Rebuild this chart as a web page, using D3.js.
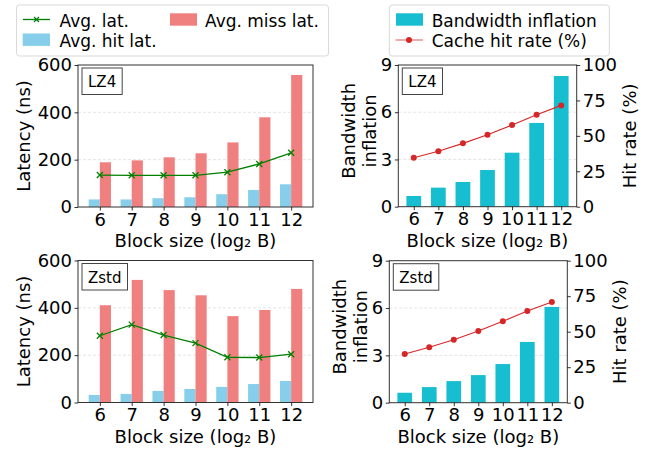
<!DOCTYPE html>
<html>
<head>
<meta charset="utf-8">
<script src="https://cdn.jsdelivr.net/npm/d3@7"></script>
<style>
  body { margin: 0; background: #fff; }
  text { font-family: "DejaVu Sans", sans-serif; fill: #000; }
</style>
</head>
<body>
<div id="chart"></div>
<script>
// data
var blockSizes = [6, 7, 8, 9, 10, 11, 12];

var lz4Hit = [32, 32, 37, 41, 54, 72, 96];
var lz4Miss = [189, 197, 210, 227, 273, 379, 558];
var lz4Avg = [135, 134, 134, 134, 147, 182, 229];

var zstdHit = [32, 36, 49, 57, 66, 78, 91];
var zstdMiss = [411, 518, 475, 453, 365, 391, 480];
var zstdAvg = [282, 329, 285, 251, 191, 190, 204];

var lz4Bw = [0.68, 1.21, 1.57, 2.33, 3.43, 5.32, 8.3];
var lz4HitRate = [34.6, 39.1, 44.7, 50.8, 57.6, 64.9, 71.5];
var zstdBw = [0.63, 0.99, 1.37, 1.75, 2.45, 3.85, 6.07];
var zstdHitRate = [34.3, 39.0, 44.4, 50.5, 57.3, 64.6, 70.9];

var latencyTicks = [0, 200, 400, 600];
var bwTicks = [0, 3, 6, 9];
var hitRateTicks = [0, 25, 50, 75, 100];

var colors = {
  hit: "#87ceeb",
  miss: "#f08080",
  avg: "#008000",
  bw: "#17becf",
  rate: "#d62728"
};

var svg = d3.select("#chart").append("svg")
  .attr("width", 654)
  .attr("height", 452);

function styleAxis(g) {
  g.select(".domain").remove();
  g.selectAll("line").attr("stroke", "#000").attr("stroke-width", 0.8);
  g.selectAll("text")
    .attr("font-family", "DejaVu Sans, sans-serif")
    .attr("font-size", 18)
    .attr("fill", "#000");
}

function labelBox(g, x0, y0, label) {
  var lb = g.append("g");
  var r = lb.append("rect");
  var t = lb.append("text")
    .attr("font-size", 15)
    .text(label);
  var w = t.node().getComputedTextLength();
  r.attr("x", x0 + 4)
    .attr("y", y0 + 3)
    .attr("width", w + 12)
    .attr("height", 26.5)
    .attr("fill", "#fff")
    .attr("stroke", "#444")
    .attr("stroke-width", 1);
  t.attr("x", x0 + 10).attr("y", y0 + 22);
}

function frame(g, x0, x1, y0, y1) {
  g.append("rect")
    .attr("x", x0).attr("y", y0)
    .attr("width", x1 - x0).attr("height", y1 - y0)
    .attr("fill", "none")
    .attr("stroke", "#333")
    .attr("stroke-width", 1);
}

function xAxisAndLabel(g, x, y1) {
  g.append("g")
    .attr("transform", `translate(0, ${y1})`)
    .call(d3.axisBottom(x).tickValues(blockSizes).tickSize(3.5).tickPadding(2.5).tickSizeOuter(0))
    .call(styleAxis);
  g.append("text")
    .attr("x", (x.range()[0] + x.range()[1]) / 2)
    .attr("y", y1 + 40)
    .attr("text-anchor", "middle")
    .attr("font-size", 18)
    .text("Block size (log\u2082 B)");
}

// latency panel: hit/miss bars + average line
function latencyPanel(box, hit, miss, avg, name) {
  var g = svg.append("g");
  var x = d3.scaleLinear().domain([5.315, 12.685]).range([box.x0, box.x1]);
  var y = d3.scaleLinear().domain([0, 600]).range([box.y1, box.y0]);
  var bw = 0.35;

  g.selectAll(".grid")
    .data(latencyTicks.slice(1, -1))
    .enter().append("line")
    .attr("x1", box.x0).attr("x2", box.x1)
    .attr("y1", d => y(d)).attr("y2", d => y(d))
    .attr("stroke", "#ddd").attr("stroke-width", 0.8)
    .attr("stroke-dasharray", "3,2");

  g.selectAll(".hit")
    .data(blockSizes)
    .enter().append("rect")
    .attr("x", d => x(d - bw))
    .attr("y", (d, i) => y(hit[i]))
    .attr("width", x(bw) - x(0))
    .attr("height", (d, i) => y(0) - y(hit[i]))
    .attr("fill", colors.hit);

  g.selectAll(".miss")
    .data(blockSizes)
    .enter().append("rect")
    .attr("x", d => x(d))
    .attr("y", (d, i) => y(miss[i]))
    .attr("width", x(bw) - x(0))
    .attr("height", (d, i) => y(0) - y(miss[i]))
    .attr("fill", colors.miss);

  var line = d3.line()
    .x(d => x(d))
    .y((d, i) => y(avg[i]));
  g.append("path")
    .datum(blockSizes)
    .attr("d", line)
    .attr("fill", "none")
    .attr("stroke", colors.avg)
    .attr("stroke-width", 1.3);

  var s = 3;
  g.selectAll(".mark")
    .data(blockSizes)
    .enter().append("path")
    .attr("d", (d, i) => {
      var cx = x(d), cy = y(avg[i]);
      return `M${cx - s},${cy - s}L${cx + s},${cy + s}M${cx - s},${cy + s}L${cx + s},${cy - s}`;
    })
    .attr("stroke", colors.avg)
    .attr("stroke-width", 1.3);

  frame(g, box.x0, box.x1, box.y0, box.y1);

  g.append("g")
    .attr("transform", `translate(${box.x0}, 0)`)
    .call(d3.axisLeft(y).tickValues(latencyTicks).tickSize(3.5).tickPadding(2.5).tickSizeOuter(0))
    .call(styleAxis);

  xAxisAndLabel(g, x, box.y1);

  g.append("text")
    .attr("transform", `translate(30, ${(box.y0 + box.y1) / 2}) rotate(-90)`)
    .attr("text-anchor", "middle")
    .attr("font-size", 18)
    .text("Latency (ns)");

  labelBox(g, box.x0, box.y0, name);
}

// bandwidth panel: bars + hit rate line on right axis
function bandwidthPanel(box, bwVals, rate, name) {
  var g = svg.append("g");
  var x = d3.scaleLinear().domain([5.37, 12.63]).range([box.x0, box.x1]);
  var y = d3.scaleLinear().domain([0, 9]).range([box.y1, box.y0]);
  var yR = d3.scaleLinear().domain([0, 100]).range([box.y1, box.y0]);
  var w = 0.6;

  g.selectAll(".grid")
    .data(bwTicks.slice(1, -1))
    .enter().append("line")
    .attr("x1", box.x0).attr("x2", box.x1)
    .attr("y1", d => y(d)).attr("y2", d => y(d))
    .attr("stroke", "#ddd").attr("stroke-width", 0.8)
    .attr("stroke-dasharray", "3,2");

  g.selectAll(".bw")
    .data(blockSizes)
    .enter().append("rect")
    .attr("x", d => x(d - w / 2))
    .attr("y", (d, i) => y(bwVals[i]))
    .attr("width", x(w) - x(0))
    .attr("height", (d, i) => y(0) - y(bwVals[i]))
    .attr("fill", colors.bw);

  var line = d3.line()
    .x(d => x(d))
    .y((d, i) => yR(rate[i]));
  g.append("path")
    .datum(blockSizes)
    .attr("d", line)
    .attr("fill", "none")
    .attr("stroke", colors.rate)
    .attr("stroke-width", 1.1);

  g.selectAll(".dot")
    .data(blockSizes)
    .enter().append("circle")
    .attr("cx", d => x(d))
    .attr("cy", (d, i) => yR(rate[i]))
    .attr("r", 3)
    .attr("fill", colors.rate);

  frame(g, box.x0, box.x1, box.y0, box.y1);

  g.append("g")
    .attr("transform", `translate(${box.x0}, 0)`)
    .call(d3.axisLeft(y).tickValues(bwTicks).tickSize(3.5).tickPadding(2.5).tickSizeOuter(0))
    .call(styleAxis);

  g.append("g")
    .attr("transform", `translate(${box.x1}, 0)`)
    .call(d3.axisRight(yR).tickValues(hitRateTicks).tickSize(3.5).tickPadding(2.5).tickSizeOuter(0))
    .call(styleAxis);

  xAxisAndLabel(g, x, box.y1);

  var cy = (box.y0 + box.y1) / 2 - 5;
  var lab = g.append("text")
    .attr("transform", `translate(${box.x0 - 43}, ${cy}) rotate(-90)`)
    .attr("text-anchor", "middle")
    .attr("font-size", 18);
  lab.append("tspan").attr("x", 0).attr("y", 0).text("Bandwidth");
  lab.append("tspan").attr("x", 0).attr("y", 20.5).text("inflation");

  g.append("text")
    .attr("transform", `translate(${box.x1 + 59}, ${(box.y0 + box.y1) / 2}) rotate(-90)`)
    .attr("text-anchor", "middle")
    .attr("font-size", 18)
    .text("Hit rate (%)");

  labelBox(g, box.x0, box.y0, name);
}

latencyPanel({ x0: 78, x1: 313, y0: 65, y1: 207 }, lz4Hit, lz4Miss, lz4Avg, "LZ4");
latencyPanel({ x0: 78, x1: 313, y0: 260.5, y1: 402.5 }, zstdHit, zstdMiss, zstdAvg, "Zstd");
bandwidthPanel({ x0: 398.3, x1: 576.7, y0: 65, y1: 206.7 }, lz4Bw, lz4HitRate, "LZ4");
bandwidthPanel({ x0: 389.3, x1: 567.3, y0: 260.7, y1: 402.7 }, zstdBw, zstdHitRate, "Zstd");

// legends
function legendBox(x, y, w, h) {
  svg.append("rect")
    .attr("x", x).attr("y", y)
    .attr("width", w).attr("height", h)
    .attr("rx", 3)
    .attr("fill", "#fff")
    .attr("stroke", "#d9d9d9")
    .attr("stroke-width", 1);
}

function legendText(x, y, label) {
  svg.append("text")
    .attr("x", x).attr("y", y)
    .attr("font-size", 17)
    .text(label);
}

legendBox(16.5, 5, 312, 51);
svg.append("line")
  .attr("x1", 23).attr("x2", 50).attr("y1", 19.5).attr("y2", 19.5)
  .attr("stroke", colors.avg).attr("stroke-width", 1.3);
svg.append("path")
  .attr("d", "M34,17L39,22M34,22L39,17")
  .attr("stroke", colors.avg).attr("stroke-width", 1.2);
legendText(59.5, 26.5, "Avg. lat.");
svg.append("rect")
  .attr("x", 170).attr("y", 13.3).attr("width", 27).attr("height", 12.4)
  .attr("fill", colors.miss);
legendText(205, 26.5, "Avg. miss lat.");
svg.append("rect")
  .attr("x", 22.7).attr("y", 33.5).attr("width", 27.3).attr("height", 12.4)
  .attr("fill", colors.hit);
legendText(59.5, 46.5, "Avg. hit lat.");

legendBox(389.3, 5, 220, 51);
svg.append("rect")
  .attr("x", 396).attr("y", 13.3).attr("width", 27).attr("height", 12.4)
  .attr("fill", colors.bw);
legendText(431.7, 26.5, "Bandwidth inflation");
svg.append("line")
  .attr("x1", 395.5).attr("x2", 423).attr("y1", 40).attr("y2", 40)
  .attr("stroke", colors.rate).attr("stroke-width", 1.1).attr("opacity", 0.7);
svg.append("circle")
  .attr("cx", 409).attr("cy", 40).attr("r", 3)
  .attr("fill", colors.rate);
legendText(431.7, 46.5, "Cache hit rate (%)");
</script>
</body>
</html>
